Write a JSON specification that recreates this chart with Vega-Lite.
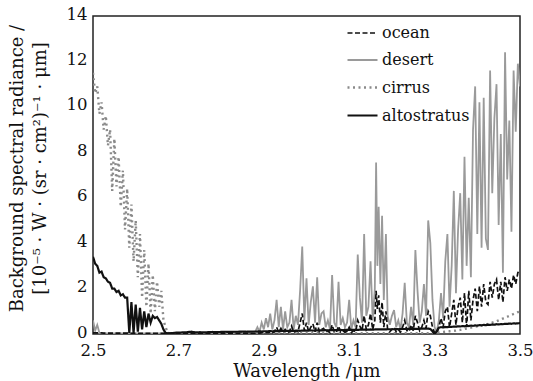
{
"$schema": "https://vega.github.io/schema/vega-lite/v6.json",
"width": 427, "height": 318,
"autosize": "none",
"padding": {"left": 93, "top": 16, "right": 13, "bottom": 47},
"background": "white",
"config": {"view": {"stroke": "#222", "strokeWidth": 1.5}, "font": "DejaVu Serif"},
"data": {"values": [
{"x":2.500,"ocean":0.05,"desert":0.6,"cirrus":11.5,"altostratus":3.4},
{"x":2.505,"ocean":0.05,"desert":0.15,"cirrus":10.6,"altostratus":3.1},
{"x":2.510,"ocean":0.05,"desert":0.4,"cirrus":10.9,"altostratus":3.0},
{"x":2.515,"ocean":0.05,"desert":0.05,"cirrus":9.7,"altostratus":2.7},
{"x":2.520,"ocean":0.05,"desert":0.03,"cirrus":10.2,"altostratus":2.75},
{"x":2.525,"ocean":0.04,"desert":0.03,"cirrus":9.0,"altostratus":2.5},
{"x":2.530,"ocean":0.04,"desert":0.03,"cirrus":9.6,"altostratus":2.45},
{"x":2.535,"ocean":0.04,"desert":0.03,"cirrus":8.3,"altostratus":2.3},
{"x":2.540,"ocean":0.04,"desert":0.03,"cirrus":9.0,"altostratus":2.25},
{"x":2.545,"ocean":0.04,"desert":0.03,"cirrus":6.3,"altostratus":2.0},
{"x":2.550,"ocean":0.04,"desert":0.03,"cirrus":8.6,"altostratus":2.0},
{"x":2.555,"ocean":0.04,"desert":0.03,"cirrus":6.5,"altostratus":1.85},
{"x":2.560,"ocean":0.04,"desert":0.03,"cirrus":7.8,"altostratus":1.9},
{"x":2.565,"ocean":0.04,"desert":0.03,"cirrus":5.6,"altostratus":1.7},
{"x":2.570,"ocean":0.04,"desert":0.03,"cirrus":7.2,"altostratus":1.75},
{"x":2.575,"ocean":0.04,"desert":0.03,"cirrus":4.6,"altostratus":1.6},
{"x":2.580,"ocean":0.04,"desert":0.03,"cirrus":6.4,"altostratus":1.6},
{"x":2.585,"ocean":0.03,"desert":0.03,"cirrus":3.8,"altostratus":0.05},
{"x":2.590,"ocean":0.03,"desert":0.03,"cirrus":5.7,"altostratus":1.4},
{"x":2.595,"ocean":0.03,"desert":0.03,"cirrus":3.2,"altostratus":0.05},
{"x":2.600,"ocean":0.03,"desert":0.03,"cirrus":5.0,"altostratus":1.3},
{"x":2.605,"ocean":0.03,"desert":0.03,"cirrus":2.5,"altostratus":0.1},
{"x":2.610,"ocean":0.03,"desert":0.03,"cirrus":4.4,"altostratus":1.15},
{"x":2.615,"ocean":0.03,"desert":0.03,"cirrus":1.6,"altostratus":0.2},
{"x":2.620,"ocean":0.03,"desert":0.03,"cirrus":3.7,"altostratus":1.0},
{"x":2.625,"ocean":0.03,"desert":0.03,"cirrus":1.2,"altostratus":0.3},
{"x":2.630,"ocean":0.03,"desert":0.03,"cirrus":3.1,"altostratus":0.9},
{"x":2.635,"ocean":0.03,"desert":0.03,"cirrus":0.9,"altostratus":0.5},
{"x":2.640,"ocean":0.03,"desert":0.03,"cirrus":2.6,"altostratus":0.8},
{"x":2.645,"ocean":0.03,"desert":0.03,"cirrus":1.0,"altostratus":0.7},
{"x":2.650,"ocean":0.03,"desert":0.03,"cirrus":2.3,"altostratus":0.75},
{"x":2.655,"ocean":0.03,"desert":0.03,"cirrus":1.2,"altostratus":0.6},
{"x":2.660,"ocean":0.03,"desert":0.03,"cirrus":1.9,"altostratus":0.45},
{"x":2.665,"ocean":0.03,"desert":0.03,"cirrus":0.6,"altostratus":0.2},
{"x":2.670,"ocean":0.03,"desert":0.03,"cirrus":0.3,"altostratus":0.05},
{"x":2.675,"ocean":0.03,"desert":0.03,"cirrus":0.05,"altostratus":0.03},
{"x":2.680,"ocean":0.03,"desert":0.03,"cirrus":0.03,"altostratus":0.03},
{"x":2.685,"ocean":0.03,"desert":0.03,"cirrus":0.03,"altostratus":0.04},
{"x":2.690,"ocean":0.03,"desert":0.03,"cirrus":0.03,"altostratus":0.05},
{"x":2.695,"ocean":0.03,"desert":0.03,"cirrus":0.03,"altostratus":0.06},
{"x":2.700,"ocean":0.03,"desert":0.03,"cirrus":0.03,"altostratus":0.06},
{"x":2.710,"ocean":0.03,"desert":0.03,"cirrus":0.03,"altostratus":0.07},
{"x":2.720,"ocean":0.03,"desert":0.03,"cirrus":0.03,"altostratus":0.08},
{"x":2.730,"ocean":0.03,"desert":0.03,"cirrus":0.03,"altostratus":0.1},
{"x":2.740,"ocean":0.03,"desert":0.03,"cirrus":0.03,"altostratus":0.07},
{"x":2.750,"ocean":0.03,"desert":0.03,"cirrus":0.03,"altostratus":0.08},
{"x":2.760,"ocean":0.03,"desert":0.03,"cirrus":0.03,"altostratus":0.07},
{"x":2.770,"ocean":0.03,"desert":0.03,"cirrus":0.03,"altostratus":0.08},
{"x":2.780,"ocean":0.03,"desert":0.03,"cirrus":0.03,"altostratus":0.09},
{"x":2.790,"ocean":0.03,"desert":0.03,"cirrus":0.03,"altostratus":0.08},
{"x":2.800,"ocean":0.03,"desert":0.03,"cirrus":0.03,"altostratus":0.09},
{"x":2.810,"ocean":0.03,"desert":0.03,"cirrus":0.03,"altostratus":0.1},
{"x":2.820,"ocean":0.03,"desert":0.03,"cirrus":0.03,"altostratus":0.09},
{"x":2.830,"ocean":0.03,"desert":0.03,"cirrus":0.03,"altostratus":0.1},
{"x":2.840,"ocean":0.03,"desert":0.04,"cirrus":0.03,"altostratus":0.1},
{"x":2.850,"ocean":0.03,"desert":0.05,"cirrus":0.03,"altostratus":0.11},
{"x":2.860,"ocean":0.03,"desert":0.06,"cirrus":0.03,"altostratus":0.1},
{"x":2.870,"ocean":0.03,"desert":0.08,"cirrus":0.03,"altostratus":0.11},
{"x":2.880,"ocean":0.04,"desert":0.1,"cirrus":0.03,"altostratus":0.11},
{"x":2.885,"ocean":0.05,"desert":0.3,"cirrus":0.03,"altostratus":0.11},
{"x":2.890,"ocean":0.04,"desert":0.1,"cirrus":0.03,"altostratus":0.12},
{"x":2.895,"ocean":0.06,"desert":0.5,"cirrus":0.03,"altostratus":0.11},
{"x":2.900,"ocean":0.05,"desert":0.2,"cirrus":0.03,"altostratus":0.12},
{"x":2.905,"ocean":0.08,"desert":0.7,"cirrus":0.03,"altostratus":0.12},
{"x":2.910,"ocean":0.05,"desert":0.3,"cirrus":0.03,"altostratus":0.12},
{"x":2.915,"ocean":0.1,"desert":0.9,"cirrus":0.03,"altostratus":0.13},
{"x":2.920,"ocean":0.06,"desert":0.2,"cirrus":0.03,"altostratus":0.12},
{"x":2.925,"ocean":0.1,"desert":0.6,"cirrus":0.03,"altostratus":0.13},
{"x":2.930,"ocean":0.3,"desert":1.5,"cirrus":0.03,"altostratus":0.13},
{"x":2.935,"ocean":0.08,"desert":0.3,"cirrus":0.03,"altostratus":0.13},
{"x":2.940,"ocean":0.25,"desert":1.2,"cirrus":0.03,"altostratus":0.13},
{"x":2.945,"ocean":0.06,"desert":0.2,"cirrus":0.03,"altostratus":0.14},
{"x":2.950,"ocean":0.2,"desert":1.0,"cirrus":0.03,"altostratus":0.13},
{"x":2.955,"ocean":0.08,"desert":0.3,"cirrus":0.03,"altostratus":0.14},
{"x":2.960,"ocean":0.1,"desert":0.5,"cirrus":0.03,"altostratus":0.14},
{"x":2.965,"ocean":0.35,"desert":1.5,"cirrus":0.03,"altostratus":0.14},
{"x":2.970,"ocean":0.06,"desert":0.2,"cirrus":0.03,"altostratus":0.14},
{"x":2.975,"ocean":0.15,"desert":0.8,"cirrus":0.03,"altostratus":0.14},
{"x":2.980,"ocean":0.1,"desert":0.4,"cirrus":0.03,"altostratus":0.15},
{"x":2.985,"ocean":0.5,"desert":1.9,"cirrus":0.03,"altostratus":0.14},
{"x":2.990,"ocean":0.9,"desert":3.85,"cirrus":0.03,"altostratus":0.15},
{"x":2.995,"ocean":0.15,"desert":0.6,"cirrus":0.03,"altostratus":0.15},
{"x":3.000,"ocean":0.5,"desert":2.45,"cirrus":0.03,"altostratus":0.15},
{"x":3.005,"ocean":0.1,"desert":0.4,"cirrus":0.03,"altostratus":0.15},
{"x":3.010,"ocean":0.3,"desert":1.4,"cirrus":0.03,"altostratus":0.16},
{"x":3.015,"ocean":0.45,"desert":2.1,"cirrus":0.03,"altostratus":0.15},
{"x":3.020,"ocean":0.1,"desert":0.5,"cirrus":0.03,"altostratus":0.16},
{"x":3.025,"ocean":0.5,"desert":2.5,"cirrus":0.03,"altostratus":0.16},
{"x":3.030,"ocean":0.1,"desert":0.4,"cirrus":0.03,"altostratus":0.16},
{"x":3.035,"ocean":0.2,"desert":0.9,"cirrus":0.03,"altostratus":0.16},
{"x":3.040,"ocean":0.25,"desert":1.0,"cirrus":0.03,"altostratus":0.16},
{"x":3.045,"ocean":0.08,"desert":0.3,"cirrus":0.03,"altostratus":0.17},
{"x":3.050,"ocean":0.15,"desert":0.6,"cirrus":0.03,"altostratus":0.16},
{"x":3.055,"ocean":0.06,"desert":0.2,"cirrus":0.03,"altostratus":0.17},
{"x":3.060,"ocean":0.4,"desert":2.6,"cirrus":0.03,"altostratus":0.17},
{"x":3.065,"ocean":0.1,"desert":0.5,"cirrus":0.03,"altostratus":0.17},
{"x":3.070,"ocean":0.08,"desert":0.3,"cirrus":0.03,"altostratus":0.17},
{"x":3.075,"ocean":0.35,"desert":2.3,"cirrus":0.03,"altostratus":0.17},
{"x":3.080,"ocean":0.1,"desert":0.4,"cirrus":0.03,"altostratus":0.18},
{"x":3.085,"ocean":0.15,"desert":0.7,"cirrus":0.03,"altostratus":0.17},
{"x":3.090,"ocean":0.08,"desert":0.3,"cirrus":0.03,"altostratus":0.18},
{"x":3.095,"ocean":0.12,"desert":0.5,"cirrus":0.03,"altostratus":0.18},
{"x":3.100,"ocean":0.3,"desert":1.5,"cirrus":0.03,"altostratus":0.18},
{"x":3.105,"ocean":0.06,"desert":0.2,"cirrus":0.03,"altostratus":0.18},
{"x":3.110,"ocean":0.15,"desert":0.6,"cirrus":0.03,"altostratus":0.18},
{"x":3.115,"ocean":0.1,"desert":0.3,"cirrus":0.03,"altostratus":0.19},
{"x":3.120,"ocean":0.6,"desert":3.5,"cirrus":0.03,"altostratus":0.18},
{"x":3.125,"ocean":0.35,"desert":1.6,"cirrus":0.03,"altostratus":0.19},
{"x":3.130,"ocean":0.15,"desert":0.5,"cirrus":0.03,"altostratus":0.19},
{"x":3.135,"ocean":0.8,"desert":4.4,"cirrus":0.03,"altostratus":0.19},
{"x":3.140,"ocean":0.2,"desert":0.8,"cirrus":0.03,"altostratus":0.19},
{"x":3.145,"ocean":0.4,"desert":1.2,"cirrus":0.03,"altostratus":0.19},
{"x":3.150,"ocean":0.9,"desert":3.2,"cirrus":0.03,"altostratus":0.2},
{"x":3.155,"ocean":0.2,"desert":0.6,"cirrus":0.03,"altostratus":0.19},
{"x":3.160,"ocean":0.6,"desert":2.0,"cirrus":0.03,"altostratus":0.2},
{"x":3.163,"ocean":1.9,"desert":7.55,"cirrus":0.03,"altostratus":0.2},
{"x":3.166,"ocean":1.1,"desert":3.0,"cirrus":0.03,"altostratus":0.2},
{"x":3.169,"ocean":1.7,"desert":5.6,"cirrus":0.03,"altostratus":0.2},
{"x":3.173,"ocean":0.5,"desert":2.2,"cirrus":0.03,"altostratus":0.2},
{"x":3.177,"ocean":1.4,"desert":5.2,"cirrus":0.03,"altostratus":0.2},
{"x":3.181,"ocean":0.3,"desert":1.5,"cirrus":0.03,"altostratus":0.2},
{"x":3.186,"ocean":1.0,"desert":4.4,"cirrus":0.03,"altostratus":0.2},
{"x":3.190,"ocean":0.2,"desert":0.8,"cirrus":0.03,"altostratus":0.21},
{"x":3.195,"ocean":0.1,"desert":0.4,"cirrus":0.03,"altostratus":0.21},
{"x":3.200,"ocean":0.2,"desert":0.8,"cirrus":0.03,"altostratus":0.21},
{"x":3.205,"ocean":0.3,"desert":1.05,"cirrus":0.03,"altostratus":0.21},
{"x":3.210,"ocean":0.1,"desert":0.3,"cirrus":0.03,"altostratus":0.22},
{"x":3.215,"ocean":0.2,"desert":0.6,"cirrus":0.03,"altostratus":0.21},
{"x":3.220,"ocean":0.08,"desert":0.2,"cirrus":0.03,"altostratus":0.22},
{"x":3.225,"ocean":0.3,"desert":0.9,"cirrus":0.03,"altostratus":0.22},
{"x":3.230,"ocean":0.6,"desert":2.25,"cirrus":0.03,"altostratus":0.22},
{"x":3.235,"ocean":0.15,"desert":0.5,"cirrus":0.03,"altostratus":0.22},
{"x":3.240,"ocean":0.1,"desert":0.3,"cirrus":0.03,"altostratus":0.23},
{"x":3.245,"ocean":0.4,"desert":1.2,"cirrus":0.03,"altostratus":0.22},
{"x":3.250,"ocean":0.15,"desert":0.4,"cirrus":0.03,"altostratus":0.23},
{"x":3.255,"ocean":0.8,"desert":3.7,"cirrus":0.03,"altostratus":0.23},
{"x":3.260,"ocean":0.5,"desert":1.9,"cirrus":0.03,"altostratus":0.23},
{"x":3.265,"ocean":0.15,"desert":0.5,"cirrus":0.03,"altostratus":0.23},
{"x":3.270,"ocean":0.3,"desert":1.0,"cirrus":0.03,"altostratus":0.24},
{"x":3.275,"ocean":0.6,"desert":2.2,"cirrus":0.03,"altostratus":0.24},
{"x":3.280,"ocean":0.25,"desert":0.8,"cirrus":0.03,"altostratus":0.24},
{"x":3.285,"ocean":1.0,"desert":5.0,"cirrus":0.03,"altostratus":0.24},
{"x":3.290,"ocean":0.8,"desert":4.0,"cirrus":0.03,"altostratus":0.22},
{"x":3.295,"ocean":0.3,"desert":1.5,"cirrus":0.03,"altostratus":0.12},
{"x":3.300,"ocean":0.05,"desert":0.3,"cirrus":0.05,"altostratus":0.0},
{"x":3.305,"ocean":0.05,"desert":0.1,"cirrus":0.06,"altostratus":0.12},
{"x":3.310,"ocean":0.3,"desert":0.6,"cirrus":0.07,"altostratus":0.28},
{"x":3.315,"ocean":0.7,"desert":1.8,"cirrus":0.08,"altostratus":0.3},
{"x":3.320,"ocean":0.3,"desert":0.7,"cirrus":0.09,"altostratus":0.29},
{"x":3.325,"ocean":1.0,"desert":3.2,"cirrus":0.1,"altostratus":0.31},
{"x":3.330,"ocean":1.2,"desert":4.4,"cirrus":0.11,"altostratus":0.3},
{"x":3.335,"ocean":0.3,"desert":1.2,"cirrus":0.12,"altostratus":0.32},
{"x":3.340,"ocean":0.9,"desert":3.0,"cirrus":0.13,"altostratus":0.31},
{"x":3.345,"ocean":1.5,"desert":6.3,"cirrus":0.14,"altostratus":0.33},
{"x":3.350,"ocean":0.4,"desert":1.8,"cirrus":0.15,"altostratus":0.32},
{"x":3.355,"ocean":1.2,"desert":4.6,"cirrus":0.17,"altostratus":0.34},
{"x":3.360,"ocean":1.6,"desert":6.2,"cirrus":0.18,"altostratus":0.33},
{"x":3.365,"ocean":0.5,"desert":2.4,"cirrus":0.2,"altostratus":0.35},
{"x":3.370,"ocean":1.8,"desert":7.8,"cirrus":0.22,"altostratus":0.34},
{"x":3.375,"ocean":0.3,"desert":3.0,"cirrus":0.24,"altostratus":0.36},
{"x":3.380,"ocean":1.9,"desert":6.0,"cirrus":0.26,"altostratus":0.35},
{"x":3.385,"ocean":0.6,"desert":2.5,"cirrus":0.28,"altostratus":0.37},
{"x":3.390,"ocean":1.5,"desert":9.0,"cirrus":0.3,"altostratus":0.36},
{"x":3.395,"ocean":2.0,"desert":10.9,"cirrus":0.32,"altostratus":0.38},
{"x":3.400,"ocean":1.0,"desert":4.4,"cirrus":0.34,"altostratus":0.37},
{"x":3.405,"ocean":2.1,"desert":10.2,"cirrus":0.36,"altostratus":0.39},
{"x":3.410,"ocean":1.2,"desert":3.8,"cirrus":0.38,"altostratus":0.38},
{"x":3.415,"ocean":2.2,"desert":10.4,"cirrus":0.4,"altostratus":0.4},
{"x":3.420,"ocean":1.4,"desert":4.2,"cirrus":0.42,"altostratus":0.39},
{"x":3.425,"ocean":1.3,"desert":3.7,"cirrus":0.44,"altostratus":0.41},
{"x":3.430,"ocean":2.3,"desert":11.6,"cirrus":0.47,"altostratus":0.4},
{"x":3.435,"ocean":1.6,"desert":6.2,"cirrus":0.5,"altostratus":0.42},
{"x":3.440,"ocean":2.2,"desert":9.5,"cirrus":0.53,"altostratus":0.41},
{"x":3.445,"ocean":2.4,"desert":11.0,"cirrus":0.56,"altostratus":0.43},
{"x":3.450,"ocean":1.5,"desert":4.8,"cirrus":0.6,"altostratus":0.42},
{"x":3.455,"ocean":2.3,"desert":8.8,"cirrus":0.64,"altostratus":0.44},
{"x":3.460,"ocean":1.4,"desert":2.7,"cirrus":0.68,"altostratus":0.43},
{"x":3.465,"ocean":2.5,"desert":12.4,"cirrus":0.72,"altostratus":0.45},
{"x":3.470,"ocean":1.9,"desert":6.8,"cirrus":0.76,"altostratus":0.44},
{"x":3.475,"ocean":2.4,"desert":9.4,"cirrus":0.8,"altostratus":0.46},
{"x":3.480,"ocean":2.0,"desert":4.5,"cirrus":0.84,"altostratus":0.45},
{"x":3.485,"ocean":2.6,"desert":11.6,"cirrus":0.88,"altostratus":0.47},
{"x":3.490,"ocean":2.2,"desert":8.9,"cirrus":0.92,"altostratus":0.46},
{"x":3.495,"ocean":2.7,"desert":11.9,"cirrus":0.96,"altostratus":0.47},
{"x":3.500,"ocean":2.8,"desert":10.9,"cirrus":1.0,"altostratus":0.48}
]},
"transform": [{"fold": ["desert", "cirrus", "ocean", "altostratus"], "as": ["series", "value"]}],
"mark": {"type": "line", "strokeCap": "butt", "clip": true},
"encoding": {
  "x": {"field": "x", "type": "quantitative",
    "scale": {"domain": [2.5, 3.5], "nice": false, "zero": false},
    "axis": {"values": [2.5, 2.7, 2.9, 3.1, 3.3, 3.5], "format": ".1f", "ticks": false, "domain": false, "grid": false,
      "labelFlush": false, "labelFontSize": 16.5, "labelColor": "#111", "labelPadding": 8, "labelFont": "DejaVu Serif",
      "title": "Wavelength /μm", "titleFont": "DejaVu Serif", "titleFontSize": 18, "titleFontWeight": "normal", "titleColor": "#111",
      "titleY": 42, "titleBaseline": "alphabetic"}},
  "y": {"field": "value", "type": "quantitative",
    "scale": {"domain": [0, 14], "nice": false},
    "axis": {"values": [0, 2, 4, 6, 8, 10, 12, 14], "ticks": false, "domain": false, "grid": false,
      "labelFontSize": 16.5, "labelColor": "#111", "labelPadding": 6, "labelFont": "DejaVu Serif", "labelBaseline": "middle", "labelOffset": -2,
      "title": ["Background spectral radiance /", "[10⁻⁵ · W · (sr · cm²)⁻¹ · μm]"],
      "titleFont": "DejaVu Serif", "titleFontSize": 18, "titleFontWeight": "normal", "titleColor": "#111",
      "titleX": -76, "titleY": 152, "titleAngle": 270, "titleAlign": "center", "titleBaseline": "middle", "titleLineHeight": 23}},
  "color": {"field": "series", "type": "nominal",
    "scale": {"domain": ["ocean", "desert", "cirrus", "altostratus"], "range": ["#111111", "#9a9a9a", "#8a8a8a", "#111111"]},
    "legend": {"orient": "none", "legendX": 253, "legendY": 1, "title": null, "symbolType": "stroke", "symbolSize": 900,
      "labelFont": "DejaVu Serif", "labelFontSize": 16, "labelColor": "#111", "labelOffset": 3, "rowPadding": 3, "padding": 0}},
  "strokeDash": {"field": "series", "type": "nominal",
    "scale": {"domain": ["ocean", "desert", "cirrus", "altostratus"], "range": [[5, 2.5], [1, 0], [2, 3.5], [1, 0]]}},
  "strokeWidth": {"field": "series", "type": "nominal",
    "scale": {"type": "ordinal", "domain": ["ocean", "desert", "cirrus", "altostratus"], "range": [1.7, 1.8, 2.4, 2.2]}}
}
}
